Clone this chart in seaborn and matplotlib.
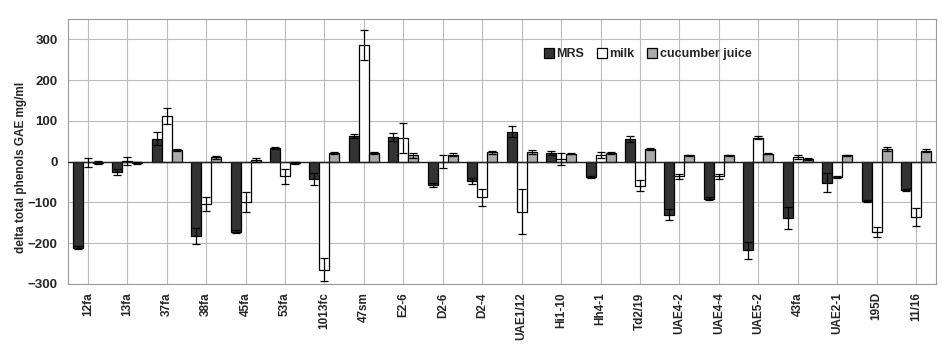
import pandas as pd
import seaborn as sns
import matplotlib.pyplot as plt

# strains on the x axis
strains = ['12fa', '13fa', '37fa', '38fa', '45fa', '53fa', '1013fc', '47sm', 'E2-6', 'D2-6', 'D2-4',
           'UAE1/12', 'Hi1-10', 'Hh4-1', 'Td2/19', 'UAE4-2', 'UAE4-4', 'UAE5-2', '43fa', 'UAE2-1',
           '195D', '11/16']
media = ['MRS', 'milk', 'cucumber juice']

# delta total phenols
mrs = [-211, -25, 56, -183, -172, 34, -42, 63, 61, -56, -48, 74, 22, -38, 56, -130, -91, -217, -138,
       -51, -96, -69]
mrs_err = [4, 7, 16, 20, 4, 2, 15, 5, 10, 5, 7, 13, 5, 2, 7, 14, 4, 21, 28, 24, 2, 3]
milk = [-1, 1, 112, -104, -99, -36, -265, 287, 59, 0, -87, -123, 7, 16, -59, -36, -36, 59, 11, -37,
        -172, -136]
milk_err = [11, 10, 19, 18, 25, 19, 28, 37, 37, 16, 21, 55, 14, 7, 14, 7, 7, 4, 5, 3, 12, 22]
cucumber = [-2, -3, 29, 11, 5, -3, 21, 21, 16, 17, 23, 24, 20, 21, 31, 16, 16, 20, 6, 16, 31, 27]
cucumber_err = [4, 2, 3, 4, 5, 3, 2, 3, 6, 4, 3, 4, 2, 3, 3, 1, 1, 2, 2, 1, 4, 4]

errors = [mrs_err, milk_err, cucumber_err]

df = pd.DataFrame({
    'strain': strains * 3,
    'medium': [m for m in media for _ in strains],
    'value': mrs + milk + cucumber,
})

sns.set_style('white')
plt.rcParams['font.family'] = ['Liberation Sans', 'DejaVu Sans']
plt.rcParams['font.weight'] = 'bold'

fig = plt.figure(figsize=(9.53, 3.53), dpi=100)
ax = fig.add_axes([0.0714, 0.1955, 0.9106, 0.7505])

sns.barplot(data=df, x='strain', y='value', hue='medium', order=strains, hue_order=media,
            palette=['#333333', '#ffffff', '#aaaaaa'], width=0.76, gap=0, errorbar=None,
            edgecolor='black', linewidth=0.9, saturation=1, ax=ax, zorder=3)

# error bars at the end of each bar
for cont, err in zip(ax.containers, errors):
    xs = [b.get_x() + b.get_width() / 2 for b in cont]
    ys = [b.get_height() for b in cont]
    ax.errorbar(xs, ys, yerr=err, fmt='none', ecolor='black', elinewidth=0.9, capsize=3,
                capthick=0.9, zorder=4)

ax.set_ylim(-300, 350)
ax.set_xlim(-0.5, len(strains) - 0.5)
ax.set_yticks([-300, -200, -100, 0, 100, 200, 300])
ax.set_xticks(range(len(strains)))
ax.set_xticklabels(strains, rotation=90, fontsize=8.5, fontweight='bold')
ax.tick_params(axis='y', labelsize=9.5, length=4, color='#999999', width=0.8)
ax.tick_params(axis='x', length=0, pad=6)
for lab in ax.get_yticklabels():
    lab.set_fontweight('bold')

# small ticks at category boundaries
ax.set_xticks([i - 0.5 for i in range(len(strains) + 1)], minor=True)
ax.tick_params(axis='x', which='minor', length=4, color='#999999', width=0.8)

ax.grid(True, color='#bbbbbb', linewidth=0.8, zorder=0)
ax.set_axisbelow(True)
ax.axhline(0, color='#222222', linewidth=1.0, zorder=3.5)
for s in ax.spines.values():
    s.set_color('#999999')
    s.set_linewidth(0.8)

ax.set_xlabel('')
ax.set_ylabel('delta total phenols GAE mg/ml', fontsize=8.5, fontweight='bold')
ax.yaxis.set_label_coords(-0.047, 0.44)

leg = ax.legend(loc='center', bbox_to_anchor=(0.668, 0.868), ncol=3, frameon=False,
                handlelength=0.8, handleheight=0.8, handletextpad=0.2, columnspacing=1.0,
                prop={'size': 9, 'weight': 'bold'})

fig.savefig('out.png', dpi=100)
